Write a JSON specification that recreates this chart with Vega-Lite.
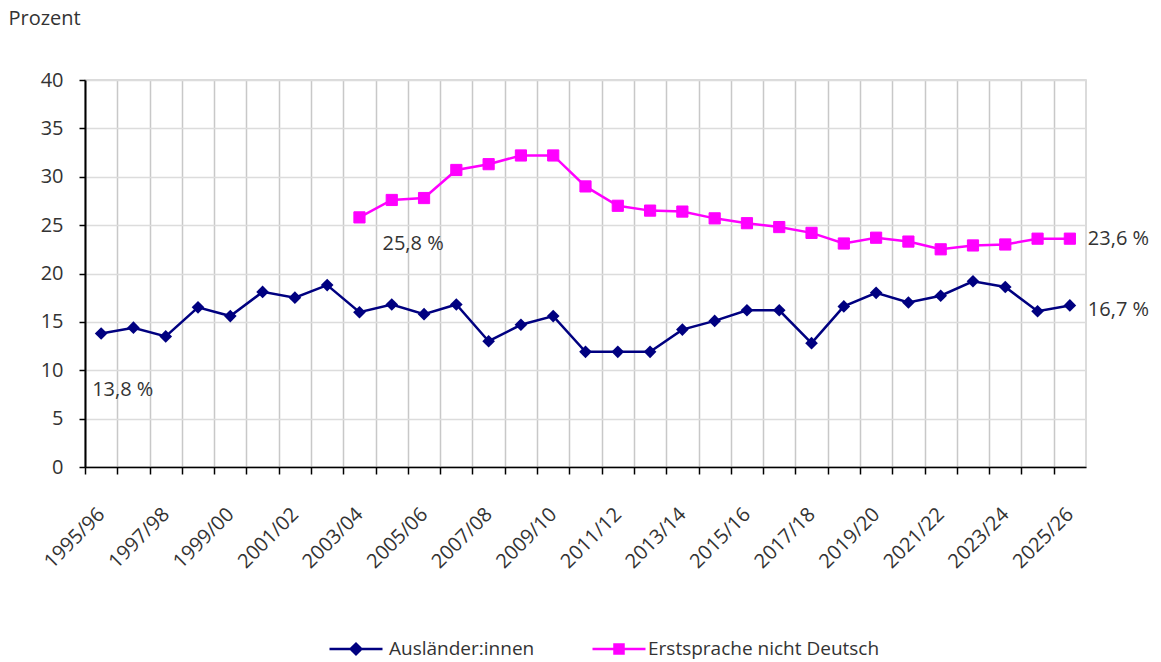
{
  "$schema": "https://vega.github.io/schema/vega-lite/v6.json",
  "width": 1001,
  "height": 387,
  "autosize": {"type": "none"},
  "padding": {"left": 85, "top": 80, "right": 75, "bottom": 195},
  "background": "white",
  "config": {
    "font": "Open Sans",
    "view": {"stroke": "#cfcfcf", "strokeWidth": 1.5}
  },
  "data": {
    "values": [
      {"year": "1995/96", "series": "Ausländer:innen", "value": 13.8, "label": "13,8 %"},
      {"year": "1996/97", "series": "Ausländer:innen", "value": 14.4},
      {"year": "1997/98", "series": "Ausländer:innen", "value": 13.5},
      {"year": "1998/99", "series": "Ausländer:innen", "value": 16.5},
      {"year": "1999/00", "series": "Ausländer:innen", "value": 15.6},
      {"year": "2000/01", "series": "Ausländer:innen", "value": 18.1},
      {"year": "2001/02", "series": "Ausländer:innen", "value": 17.5},
      {"year": "2002/03", "series": "Ausländer:innen", "value": 18.8},
      {"year": "2003/04", "series": "Ausländer:innen", "value": 16.0},
      {"year": "2004/05", "series": "Ausländer:innen", "value": 16.8},
      {"year": "2005/06", "series": "Ausländer:innen", "value": 15.8},
      {"year": "2006/07", "series": "Ausländer:innen", "value": 16.8},
      {"year": "2007/08", "series": "Ausländer:innen", "value": 13.0},
      {"year": "2008/09", "series": "Ausländer:innen", "value": 14.7},
      {"year": "2009/10", "series": "Ausländer:innen", "value": 15.6},
      {"year": "2010/11", "series": "Ausländer:innen", "value": 11.9},
      {"year": "2011/12", "series": "Ausländer:innen", "value": 11.9},
      {"year": "2012/13", "series": "Ausländer:innen", "value": 11.9},
      {"year": "2013/14", "series": "Ausländer:innen", "value": 14.2},
      {"year": "2014/15", "series": "Ausländer:innen", "value": 15.1},
      {"year": "2015/16", "series": "Ausländer:innen", "value": 16.2},
      {"year": "2016/17", "series": "Ausländer:innen", "value": 16.2},
      {"year": "2017/18", "series": "Ausländer:innen", "value": 12.8},
      {"year": "2018/19", "series": "Ausländer:innen", "value": 16.6},
      {"year": "2019/20", "series": "Ausländer:innen", "value": 18.0},
      {"year": "2020/21", "series": "Ausländer:innen", "value": 17.0},
      {"year": "2021/22", "series": "Ausländer:innen", "value": 17.7},
      {"year": "2022/23", "series": "Ausländer:innen", "value": 19.2},
      {"year": "2023/24", "series": "Ausländer:innen", "value": 18.6},
      {"year": "2024/25", "series": "Ausländer:innen", "value": 16.1},
      {"year": "2025/26", "series": "Ausländer:innen", "value": 16.7, "label": "16,7 %"},
      {"year": "2003/04", "series": "Erstsprache nicht Deutsch", "value": 25.8, "label": "25,8 %"},
      {"year": "2004/05", "series": "Erstsprache nicht Deutsch", "value": 27.6},
      {"year": "2005/06", "series": "Erstsprache nicht Deutsch", "value": 27.8},
      {"year": "2006/07", "series": "Erstsprache nicht Deutsch", "value": 30.7},
      {"year": "2007/08", "series": "Erstsprache nicht Deutsch", "value": 31.3},
      {"year": "2008/09", "series": "Erstsprache nicht Deutsch", "value": 32.2},
      {"year": "2009/10", "series": "Erstsprache nicht Deutsch", "value": 32.2},
      {"year": "2010/11", "series": "Erstsprache nicht Deutsch", "value": 29.0},
      {"year": "2011/12", "series": "Erstsprache nicht Deutsch", "value": 27.0},
      {"year": "2012/13", "series": "Erstsprache nicht Deutsch", "value": 26.5},
      {"year": "2013/14", "series": "Erstsprache nicht Deutsch", "value": 26.4},
      {"year": "2014/15", "series": "Erstsprache nicht Deutsch", "value": 25.7},
      {"year": "2015/16", "series": "Erstsprache nicht Deutsch", "value": 25.2},
      {"year": "2016/17", "series": "Erstsprache nicht Deutsch", "value": 24.8},
      {"year": "2017/18", "series": "Erstsprache nicht Deutsch", "value": 24.2},
      {"year": "2018/19", "series": "Erstsprache nicht Deutsch", "value": 23.1},
      {"year": "2019/20", "series": "Erstsprache nicht Deutsch", "value": 23.7},
      {"year": "2020/21", "series": "Erstsprache nicht Deutsch", "value": 23.3},
      {"year": "2021/22", "series": "Erstsprache nicht Deutsch", "value": 22.5},
      {"year": "2022/23", "series": "Erstsprache nicht Deutsch", "value": 22.9},
      {"year": "2023/24", "series": "Erstsprache nicht Deutsch", "value": 23.0},
      {"year": "2024/25", "series": "Erstsprache nicht Deutsch", "value": 23.6},
      {"year": "2025/26", "series": "Erstsprache nicht Deutsch", "value": 23.6, "label": "23,6 %"}
    ]
  },
  "encoding": {
    "x": {
      "field": "year",
      "type": "ordinal",
      "sort": null,
      "scale": {
        "type": "point",
        "padding": 0.5,
        "domain": ["1995/96","1996/97","1997/98","1998/99","1999/00","2000/01","2001/02","2002/03","2003/04","2004/05","2005/06","2006/07","2007/08","2008/09","2009/10","2010/11","2011/12","2012/13","2013/14","2014/15","2015/16","2016/17","2017/18","2018/19","2019/20","2020/21","2021/22","2022/23","2023/24","2024/25","2025/26"]
      },
      "axis": {
        "title": null,
        "tickOffset": -16.145,
        "labelOffset": 16.145,
        "labelAngle": -45,
        "labelAlign": "right",
        "labelBaseline": "middle",
        "labelExpr": "toNumber(slice(datum.label,0,4)) % 2 === 1 ? datum.label : ''",
        "labelOverlap": false,
        "labelBound": false,
        "labelFontSize": 20,
        "labelColor": "#333333",
        "labelPadding": 37,
        "grid": true,
        "gridColor": "#c8c8c8",
        "gridWidth": 1.5,
        "domainColor": "#000000",
        "domainWidth": 1.5,
        "tickColor": "#000000",
        "tickSize": 7,
        "tickWidth": 1.5
      }
    },
    "y": {
      "field": "value",
      "type": "quantitative",
      "scale": {"domain": [0, 40], "nice": false},
      "axis": {
        "values": [0, 5, 10, 15, 20, 25, 30, 35, 40],
        "title": "Prozent",
        "titleAngle": 0,
        "titleAlign": "left",
        "titleBaseline": "middle",
        "titleX": -77,
        "titleY": -62,
        "titleFontSize": 20,
        "titleFontWeight": "normal",
        "titleColor": "#333333",
        "grid": true,
        "gridColor": "#dcdcdc",
        "gridWidth": 1.5,
        "domainColor": "#000000",
        "domainWidth": 2,
        "tickColor": "#000000",
        "tickSize": 6,
        "tickWidth": 1.5,
        "labelFontSize": 20,
        "labelColor": "#333333",
        "labelPadding": 16
      }
    }
  },
  "layer": [
    {
      "mark": {"type": "line", "strokeWidth": 2.5},
      "encoding": {
        "color": {
          "field": "series",
          "type": "nominal",
          "scale": {"domain": ["Ausländer:innen", "Erstsprache nicht Deutsch"], "range": ["#000080", "#ff00ff"]},
          "legend": null
        }
      }
    },
    {
      "transform": [{"filter": "datum.series === 'Ausländer:innen'"}],
      "mark": {"type": "point", "shape": "diamond", "filled": true, "size": 160, "opacity": 1},
      "encoding": {
        "fill": {
          "field": "series",
          "type": "nominal",
          "scale": {"domain": ["Ausländer:innen"], "range": ["#000080"]},
          "legend": {
            "title": null,
            "orient": "none",
            "legendX": 243,
            "legendY": 541,
            "direction": "horizontal",
            "symbolType": "M-1,0H1M-0.2,0L0,-0.2L0.2,0L0,0.2Z",
            "symbolSize": 2809,
            "symbolStrokeColor": "#000080",
            "symbolStrokeWidth": 2.5,
            "symbolOpacity": 1,
            "labelFontSize": 19,
            "labelColor": "#333333",
            "labelOffset": 5,
            "labelLimit": 400
          }
        }
      }
    },
    {
      "transform": [{"filter": "datum.series === 'Erstsprache nicht Deutsch'"}],
      "mark": {"type": "point", "shape": "square", "filled": true, "fill": "#ff00ff", "size": 125, "strokeWidth": 1, "opacity": 1},
      "encoding": {
        "stroke": {
          "field": "series",
          "type": "nominal",
          "scale": {"domain": ["Erstsprache nicht Deutsch"], "range": ["#ff00ff"]},
          "legend": {
            "title": null,
            "orient": "none",
            "legendX": 506,
            "legendY": 541,
            "direction": "horizontal",
            "symbolType": "M-1,0H1M-0.17,-0.17H0.17V0.17H-0.17Z",
            "symbolSize": 2809,
            "symbolFillColor": "#ff00ff",
            "symbolStrokeWidth": 2.5,
            "symbolOpacity": 1,
            "labelFontSize": 19,
            "labelColor": "#333333",
            "labelOffset": 1,
            "labelLimit": 400
          }
        }
      }
    },
    {
      "transform": [{"filter": "datum.label === '13,8 %'"}],
      "mark": {"type": "text", "align": "left", "baseline": "middle", "dx": -9, "dy": 57, "fontSize": 20, "color": "#333333"},
      "encoding": {"text": {"field": "label"}}
    },
    {
      "transform": [{"filter": "datum.label === '25,8 %'"}],
      "mark": {"type": "text", "align": "left", "baseline": "middle", "dx": 23, "dy": 27, "fontSize": 20, "color": "#333333"},
      "encoding": {"text": {"field": "label"}}
    },
    {
      "transform": [{"filter": "datum.label === '23,6 %'"}],
      "mark": {"type": "text", "align": "left", "baseline": "middle", "dx": 18, "dy": 0, "fontSize": 20, "color": "#333333"},
      "encoding": {"text": {"field": "label"}}
    },
    {
      "transform": [{"filter": "datum.label === '16,7 %'"}],
      "mark": {"type": "text", "align": "left", "baseline": "middle", "dx": 18, "dy": 5, "fontSize": 20, "color": "#333333"},
      "encoding": {"text": {"field": "label"}}
    }
  ]
}
